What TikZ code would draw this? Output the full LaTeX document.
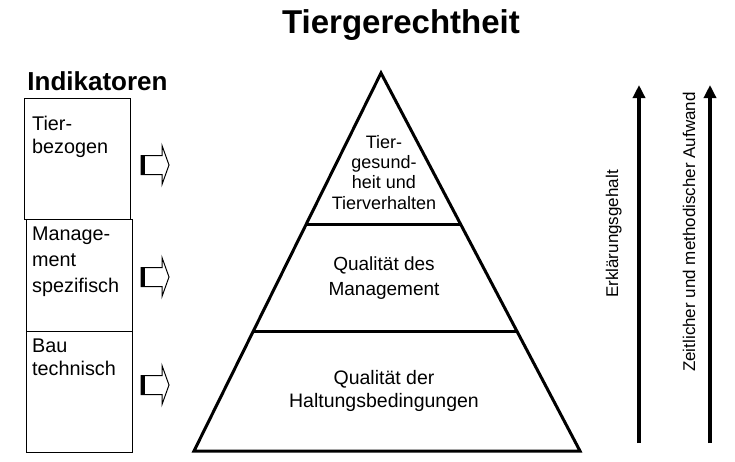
\documentclass[tikz,border=0pt]{standalone}
\usepackage{fontspec}
\setmainfont{Liberation Sans}
\usetikzlibrary{arrows.meta,calc}
\begin{document}
\begin{tikzpicture}[x=1pt,y=-1pt,
  box/.style={draw, line width=1.3pt, inner sep=0pt},
  boxtext/.style={anchor=base west, align=left, inner sep=0pt, font=\fontsize{19}{24}\selectfont},
  pyr/.style={line width=3pt, line join=miter},
  pyrtext/.style={anchor=base, align=center, inner sep=0pt},
  uparrow/.style={line width=3.5pt, -{Triangle[width=12pt,length=13pt]}},
  sidetext/.style={anchor=base, rotate=90, inner sep=0pt, font=\fontsize{17}{20}\selectfont},
  blockarrow/.pic={
    \draw[line width=1pt, line join=miter] (0,-9.5) -- (21,-9.5) -- (21,-19.5) -- (28,0) -- (21,19.5) -- (21,9.5) -- (0,9.5) -- cycle;
    \draw[line width=4.5pt] (2.2,-9.5) -- (2.2,9.5);
  }]
\useasboundingbox (0,0) rectangle (735,461);

% title
\node[anchor=base, inner sep=0pt, font=\fontsize{33}{36}\selectfont\bfseries] (title) at (401,33) {Tiergerechtheit};
\node[anchor=base, inner sep=0pt, font=\fontsize{26}{30}\selectfont\bfseries] (ind) at (97.5,90) {Indikatoren};

% indicator boxes
\node[box, minimum width=106pt, minimum height=121pt, anchor=north west] (b1) at (24,98) {};
\node[box, minimum width=106pt, minimum height=112pt, anchor=north west] (b2) at (26,219) {};
\node[box, minimum width=106pt, minimum height=121pt, anchor=north west] (b3) at (26,331) {};
\node[boxtext, font=\fontsize{19.8}{23}\selectfont] (t1) at (32,153) {Tier-\\bezogen};
\node[boxtext, font=\fontsize{19.8}{26}\selectfont] (t2) at (32,292) {Manage-\\ment\\spezifisch};
\node[boxtext, font=\fontsize{19.8}{23}\selectfont] (t3) at (32,375) {Bau\\technisch};

% block arrows
\pic (a1) at (141,165) {blockarrow};
\pic (a2) at (141,277) {blockarrow};
\pic (a3) at (141,385) {blockarrow};

% pyramid
\coordinate (A) at (381,73);
\coordinate (BL) at (194,451);
\coordinate (BR) at (580,451);
\draw[pyr] (A) -- (BL) -- (BR) -- cycle;
\draw[pyr] ($(A)!0.402!(BL)$) coordinate (d1l) -- ($(A)!0.402!(BR)$) coordinate (d1r);
\draw[pyr] ($(A)!0.685!(BL)$) coordinate (d2l) -- ($(A)!0.685!(BR)$) coordinate (d2r);

\node[pyrtext, font=\fontsize{18}{20.3}\selectfont] (p1) at (384,209) {Tier-\\gesund-\\heit und\\Tierverhalten};
\node[pyrtext, font=\fontsize{19}{25}\selectfont] (p2) at (384,295) {Qualität des\\Management};
\node[pyrtext, font=\fontsize{19.5}{22.5}\selectfont] (p3) at (384,407) {Qualität der\\Haltungsbedingungen};

% right arrows
\coordinate (r1b) at (639,443);
\coordinate (r1t) at (639,85);
\coordinate (r2b) at (710,443);
\coordinate (r2t) at (710,85);
\draw[uparrow] (r1b) -- (r1t);
\draw[uparrow] (r2b) -- (r2t);
\node[sidetext] (s1) at (618,234) {Erklärungsgehalt};
\node[sidetext] (s2) at (695,232) {Zeitlicher und methodischer Aufwand};
\end{tikzpicture}
\end{document}
